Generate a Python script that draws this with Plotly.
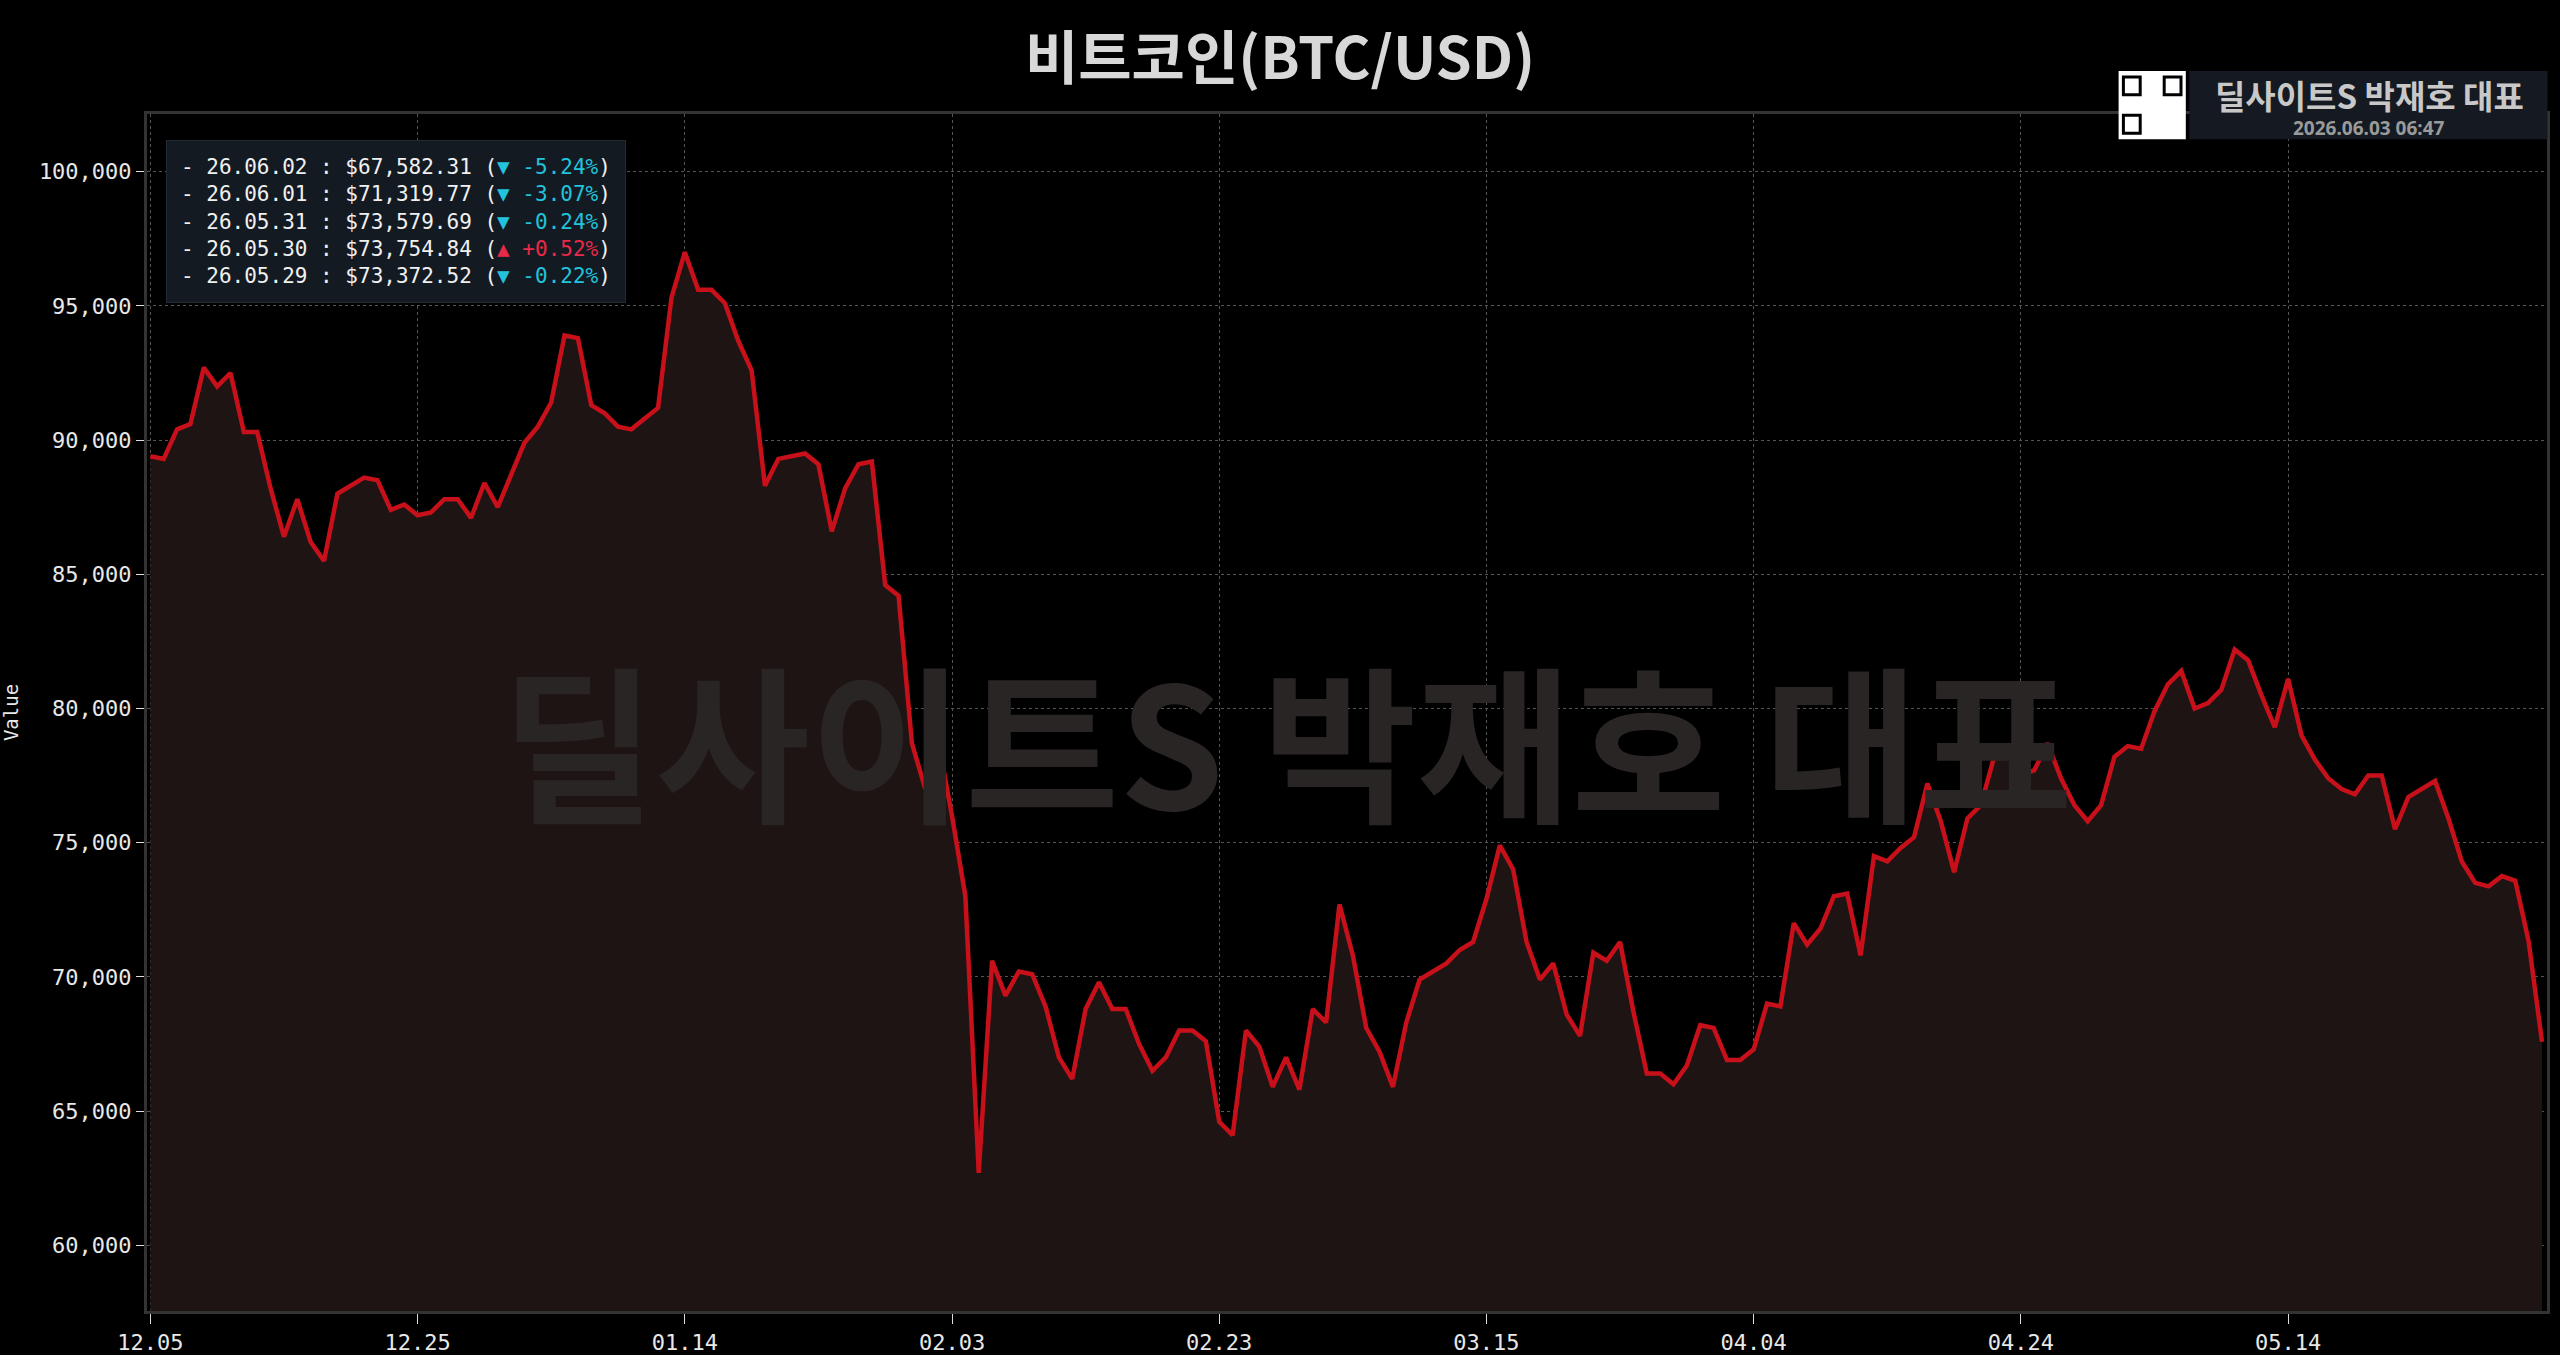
import plotly.graph_objects as go
import pandas as pd

# daily close, 2025-12-05 .. 2026-06-02
start_date = "2025-12-05"
prices = [
    89400, 89300, 90400, 90600, 92700, 92000, 92500, 90300, 90300, 88200,
    86400, 87800, 86200, 85500, 88000, 88300, 88600, 88500, 87400, 87600,
    87200, 87300, 87800, 87800, 87100, 88400, 87500, 88700, 89900, 90500,
    91400, 93900, 93800, 91300, 91000, 90500, 90400, 90800, 91200, 95300,
    97000, 95600, 95600, 95100, 93700, 92600, 88300, 89300, 89400, 89500,
    89100, 86600, 88200, 89100, 89200, 84600, 84200, 78700, 77000, 78700,
    76000, 73000, 62700, 70600, 69300, 70200, 70100, 68900, 67000, 66200,
    68800, 69800, 68800, 68800, 67500, 66500, 67000, 68000, 68000, 67600,
    64600, 64100, 68000, 67400, 65900, 67000, 65800, 68800, 68300, 72700,
    70800, 68100, 67200, 65900, 68300, 69900, 70200, 70500, 71000, 71300,
    72900, 74900, 74000, 71300, 69900, 70500, 68600, 67800, 70900, 70600,
    71300, 68700, 66400, 66400, 66000, 66700, 68200, 68100, 66900, 66900,
    67300, 69000, 68900, 72000, 71200, 71800, 73000, 73100, 70800, 74500,
    74300, 74800, 75200, 77200, 75800, 73900, 75900, 76400, 78200, 78300,
    77500, 77700, 78700, 77400, 76400, 75800, 76400, 78200, 78600, 78500,
    79900, 80900, 81400, 80000, 80200, 80700, 82200, 81800, 80500, 79300,
    81100, 79000, 78100, 77400, 77000, 76800, 77500, 77500, 75500, 76700,
    77000, 77300, 75900, 74300, 73500, 73372.52, 73754.84, 73579.69, 71319.77, 67582.31,
]
recent_labels = ["26.06.02", "26.06.01", "26.05.31", "26.05.30", "26.05.29"]
recent_prices = [67582.31, 71319.77, 73579.69, 73754.84, 73372.52]
recent_changes = [-5.24, -3.07, -0.24, 0.52, -0.22]

dates = pd.date_range(start_date, periods=len(prices), freq="D")
tick_vals = dates[::20]
tick_text = [d.strftime("%m.%d") for d in tick_vals]

mono = "DejaVu Sans Mono"
kr = "Noto Sans CJK KR"

fig = go.Figure()
fig.add_trace(go.Scatter(
    x=dates, y=prices, mode="lines",
    line=dict(color="#c8101a", width=4.5),
    fill="tozeroy", fillcolor="#1e1414",
    showlegend=False,
))

lines = []
for lab, p, c in zip(recent_labels, recent_prices, recent_changes):
    if c < 0:
        tail = f"(<span style='color:#22c3dc'>▼ {c:+.2f}%</span>)"
    else:
        tail = f"(<span style='color:#e8294a'>▲ {c:+.2f}%</span>)"
    lines.append(f"- {lab} : ${p:,.2f} {tail}")

fig.add_annotation(
    xref="paper", yref="paper", x=0.008, y=0.978, xanchor="left", yanchor="top",
    text="<br>".join(lines), align="left", showarrow=False,
    font=dict(family=mono, size=21, color="#f0f0f0"),
    bgcolor="#141a22", bordercolor="#222a33", borderwidth=1, borderpad=14,
)

# watermark
fig.add_annotation(
    xref="paper", yref="paper", x=0.475, y=0.48, xanchor="center", yanchor="middle",
    text="<b>딜사이트S 박재호 대표</b>",
    showarrow=False, font=dict(family=kr, size=168, color="#2a2525"),
)

# top-right badge
fig.add_shape(type="rect", xref="paper", yref="paper", x0=0.851, x1=1.0002, y0=1.036, y1=0.979,
              fillcolor="#151a22", line=dict(width=0), layer="above")
fig.add_shape(type="rect", xref="paper", yref="paper", x0=0.8215, x1=0.8495, y0=1.036, y1=0.979,
              fillcolor="white", line=dict(width=0), layer="above")
for qx, qy in [(0.8235, 1.031), (0.8405, 1.031), (0.8235, 0.999)]:
    fig.add_shape(type="rect", xref="paper", yref="paper", x0=qx, x1=qx + 0.007, y0=qy, y1=qy - 0.015,
                  fillcolor="white", line=dict(color="black", width=3), layer="above")
fig.add_annotation(xref="paper", yref="paper", x=0.926, y=1.0155, xanchor="center", yanchor="middle",
                   text="<b>딜사이트S 박재호 대표</b>",
                   showarrow=False, font=dict(family=kr, size=33, color="#c8c8c8"))
fig.add_annotation(xref="paper", yref="paper", x=0.926, y=0.988, xanchor="center", yanchor="middle",
                   text="<b>2026.06.03 06:47</b>",
                   showarrow=False, font=dict(family="Noto Sans", size=19, color="#9a9a9a"))

fig.update_layout(
    width=2560, height=1355,
    paper_bgcolor="black", plot_bgcolor="black",
    margin=dict(l=147, r=13, t=114, b=44),
    title=dict(text="<b>비트코인(BTC/USD)</b>", x=0.5, y=0.957, xanchor="center", yanchor="middle",
               font=dict(family=kr, size=58, color="#d8d8d8")),
    font=dict(family=mono, color="#e8e8e8", size=22),
)
fig.update_xaxes(
    range=[dates[0] - pd.Timedelta(hours=6), dates[-1] + pd.Timedelta(hours=9)],
    tickvals=tick_vals, ticktext=tick_text, ticks="outside", ticklen=10, tickcolor="#ddd",
    showgrid=True, gridcolor="#555", griddash="dot", gridwidth=1, automargin=False,
    showline=True, linecolor="#333", linewidth=3, mirror=True, zeroline=False,
)
fig.update_yaxes(
    range=[57550, 102150], tickvals=list(range(60000, 100001, 5000)), tickformat=",",
    ticks="outside", ticklen=8, tickcolor="#ddd", automargin=False,
    showgrid=True, gridcolor="#555", griddash="dot", gridwidth=1,
    showline=True, linecolor="#333", linewidth=3, mirror=True, zeroline=False,
    title=dict(text="Value", font=dict(size=19), standoff=18),
)

fig.write_html("out.html", config={"displayModeBar": False},
               post_script="document.body.style.margin='0';document.body.style.overflow='hidden';document.body.style.background='black';")
